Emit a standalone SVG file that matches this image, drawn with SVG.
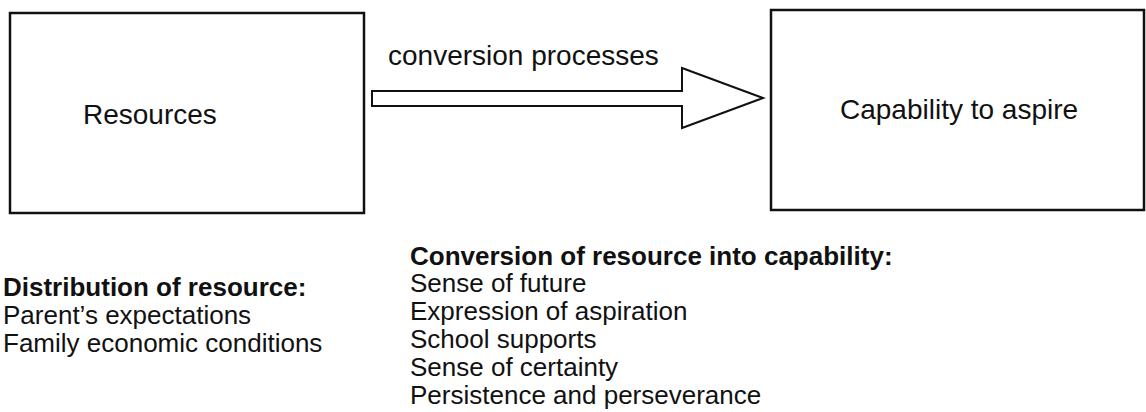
<svg xmlns="http://www.w3.org/2000/svg" width="1146" height="412" viewBox="0 0 1146 412">
<style>
.box{fill:#fff;stroke:#111;stroke-width:2.5}
.lbl{font-family:"Liberation Sans",Arial,sans-serif;font-size:28px;fill:#111}
.txt{font-family:"Liberation Sans",Arial,sans-serif;font-size:26px;fill:#111}
.b{font-weight:bold}
.arrow{fill:#fff;stroke:#111;stroke-width:2;stroke-linejoin:miter}
</style>
<rect width="1146" height="412" fill="#fff"/>
<g id="resources">
<rect class="box" x="10" y="13" width="354" height="200"/>
<text class="lbl" x="83" y="124">Resources</text>
</g>
<g id="capability">
<rect class="box" x="771" y="10" width="373" height="200"/>
<text class="lbl" x="840" y="119">Capability to aspire</text>
</g>
<g id="connectors">
<polygon class="arrow" points="372,91 682,91 682,68 763,98 682,128 682,106 372,106"/>
<text class="lbl" x="388" y="65">conversion processes</text>
</g>
<g id="distribution">
<text class="txt b" x="3" y="296">Distribution of resource:</text>
<text class="txt" x="3" y="324">Parent’s expectations</text>
<text class="txt" x="3" y="352">Family economic conditions</text>
</g>
<g id="conversion">
<text class="txt b" x="410" y="265">Conversion of resource into capability:</text>
<text class="txt" x="410" y="292">Sense of future</text>
<text class="txt" x="410" y="320">Expression of aspiration</text>
<text class="txt" x="410" y="348">School supports</text>
<text class="txt" x="410" y="376">Sense of certainty</text>
<text class="txt" x="410" y="404">Persistence and perseverance</text>
</g>
</svg>
